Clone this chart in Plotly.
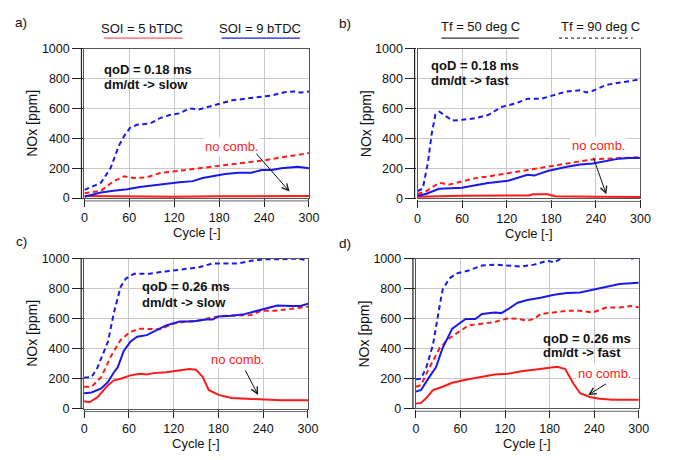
import plotly.graph_objects as go

RED = "rgb(255,25,25)"
BLUE = "rgb(25,25,235)"

# ---------------- Panel a ----------------
a_bd_x = [0, 22, 35, 46, 53, 61, 70, 88, 101, 114, 127, 140, 153, 166, 180, 197, 215, 232, 250, 267, 280, 289, 300]
a_bd_y = [54, 102, 200, 350, 415, 470, 490, 500, 535, 556, 567, 600, 593, 610, 632, 654, 665, 675, 686, 708, 714, 706, 714]
a_rd_x = [0, 22, 39, 53, 66, 83, 101, 118, 136, 153, 171, 188, 206, 223, 241, 258, 276, 300]
a_rd_y = [32, 48, 112, 145, 134, 138, 167, 177, 188, 199, 210, 221, 232, 242, 253, 268, 281, 301]
a_bs_x = [0, 13, 22, 39, 57, 74, 92, 110, 127, 145, 158, 171, 188, 206, 223, 237, 250, 263, 276, 285, 300]
a_bs_y = [9, 26, 37, 48, 58, 74, 87, 95, 106, 113, 134, 145, 160, 169, 169, 188, 188, 199, 203, 210, 199]
a_rs_x = [0, 30, 60, 120, 180, 240, 300]
a_rs_y = [14, 12, 10, 9, 12, 13, 13]

# ---------------- Panel b ----------------
b_bd_x = [0, 7, 14, 19, 24, 29.5, 36, 47, 60, 78, 95, 113, 131, 148, 166, 183, 201, 219, 227, 236, 254, 271, 300]
b_bd_y = [50, 65, 240, 430, 560, 579, 557, 520, 525, 536, 557, 611, 633, 665, 665, 687, 715, 723, 708, 719, 758, 773, 795]
b_rd_x = [0, 12, 29, 43, 60, 78, 95, 113, 131, 148, 166, 183, 201, 219, 236, 254, 271, 300]
b_rd_y = [28, 50, 104, 93, 114, 136, 147, 162, 179, 190, 205, 218, 233, 248, 261, 266, 270, 276]
b_bs_x = [0, 12, 29, 60, 78, 95, 122, 148, 157, 175, 201, 219, 236, 254, 271, 285, 300]
b_bs_y = [17, 32, 65, 71, 89, 104, 119, 158, 153, 184, 212, 227, 233, 248, 266, 270, 270]
b_rs_x = [0, 60, 150, 155, 175, 185, 240, 300]
b_rs_y = [12, 18, 20, 28, 28, 15, 12, 10]

# ---------------- Panel c ----------------
c_bd_x = [0, 10, 18, 32, 40, 49, 56, 67, 75, 88, 102, 119, 137, 154, 172, 189, 207, 224, 242, 264, 286, 300]
c_bd_y = [206, 211, 275, 447, 641, 813, 867, 899, 899, 899, 910, 920, 931, 942, 968, 968, 968, 985, 996, 996, 1000, 989]
c_rd_x = [0, 10, 23, 36, 49, 62, 75, 88, 102, 119, 137, 154, 172, 189, 207, 224, 237, 255, 272, 300]
c_rd_y = [146, 146, 211, 350, 458, 512, 533, 529, 529, 566, 581, 587, 609, 619, 624, 624, 652, 652, 662, 680]
c_bs_x = [0, 10, 23, 32, 40, 45, 53, 62, 71, 84, 97, 110, 128, 145, 163, 172, 180, 198, 215, 233, 242, 259, 277, 290, 300]
c_bs_y = [103, 108, 135, 178, 243, 275, 383, 447, 480, 490, 523, 555, 581, 581, 594, 594, 615, 619, 630, 652, 667, 688, 684, 684, 699]
c_rs_x = [0, 7, 18, 32, 40, 49, 62, 75, 84, 93, 110, 128, 141, 150, 159, 167, 180, 198, 215, 229, 242, 264, 300]
c_rs_y = [49, 43, 77, 157, 189, 200, 222, 232, 228, 237, 243, 254, 265, 260, 211, 125, 92, 71, 67, 60, 60, 56, 56]

# ---------------- Panel d ----------------
d_bd_x = [0, 7, 14, 23, 32, 36, 45, 54, 71, 89, 106, 124, 142, 159, 177, 186, 194, 203, 230, 260, 289, 300]
d_bd_y = [194, 199, 274, 425, 685, 793, 868, 901, 922, 955, 961, 955, 948, 961, 987, 976, 998, 1010, 1030, 1030, 1000, 1010]
d_rd_x = [0, 7, 14, 23, 32, 45, 58, 71, 89, 106, 124, 137, 150, 159, 168, 186, 203, 221, 238, 256, 274, 291, 300]
d_rd_y = [145, 156, 231, 317, 404, 469, 512, 555, 566, 577, 603, 598, 587, 598, 631, 641, 652, 652, 641, 674, 674, 685, 674]
d_bs_x = [0, 7, 18, 27, 36, 49, 58, 67, 80, 89, 106, 115, 124, 137, 150, 168, 186, 203, 221, 238, 256, 274, 300]
d_bs_y = [112, 123, 209, 274, 404, 533, 566, 598, 598, 631, 641, 637, 663, 706, 724, 739, 760, 771, 775, 793, 814, 832, 840]
d_rs_x = [0, 7, 14, 23, 36, 49, 67, 84, 106, 124, 142, 159, 177, 190, 201, 212, 221, 234, 247, 265, 300]
d_rs_y = [32, 37, 69, 123, 145, 171, 192, 209, 227, 231, 248, 259, 270, 278, 263, 166, 101, 76, 65, 58, 58]

x_ticks = [0, 60, 120, 180, 240, 300]
y_ticks = [0, 200, 400, 600, 800, 1000]

W, H = 673, 460
# plot areas in pixels: (left, right, top, bottom)
areas = {
    1: (83, 312, 43, 197),
    2: (422.7, 650, 43, 197.5),
    3: (82.7, 311, 259.5, 414.3),
    4: (421, 648.3, 259.7, 414),
}

fig = go.Figure()

panels = {
    1: [(a_rd_x, a_rd_y, RED, "dash"), (a_bd_x, a_bd_y, BLUE, "dash"),
        (a_rs_x, a_rs_y, RED, "solid"), (a_bs_x, a_bs_y, BLUE, "solid")],
    2: [(b_rd_x, b_rd_y, RED, "dash"), (b_bd_x, b_bd_y, BLUE, "dash"),
        (b_rs_x, b_rs_y, RED, "solid"), (b_bs_x, b_bs_y, BLUE, "solid")],
    3: [(c_rd_x, c_rd_y, RED, "dash"), (c_bd_x, c_bd_y, BLUE, "dash"),
        (c_rs_x, c_rs_y, RED, "solid"), (c_bs_x, c_bs_y, BLUE, "solid")],
    4: [(d_rd_x, d_rd_y, RED, "dash"), (d_bd_x, d_bd_y, BLUE, "dash"),
        (d_rs_x, d_rs_y, RED, "solid"), (d_bs_x, d_bs_y, BLUE, "solid")],
}

for i, series in panels.items():
    xa = "x" if i == 1 else f"x{i}"
    ya = "y" if i == 1 else f"y{i}"
    for xs, ys, col, dash in series:
        fig.add_trace(go.Scatter(
            x=xs, y=ys, mode="lines", xaxis=xa, yaxis=ya, showlegend=False,
            line=dict(color=col, width=2, dash=("5px,3.5px" if dash == "dash" else "solid")),
        ))

axis_font = dict(family="Liberation Sans, Arial, sans-serif", size=12.5, color="#111")
layout = dict(width=W, height=H, margin=dict(l=0, r=0, t=0, b=0),
              plot_bgcolor="white", paper_bgcolor="white", showlegend=False,
              font=dict(family="Liberation Sans, Arial, sans-serif", size=13, color="#111"))

for i, (l, r, t, b) in areas.items():
    xk = "xaxis" if i == 1 else f"xaxis{i}"
    yk = "yaxis" if i == 1 else f"yaxis{i}"
    ya = "y" if i == 1 else f"y{i}"
    xa = "x" if i == 1 else f"x{i}"
    layout[xk] = dict(domain=[l / W, r / W], range=[0, 300], tickvals=x_ticks,
                      anchor=ya, showgrid=True, gridcolor="#c8c8c8", gridwidth=1,
                      showline=True, linecolor="#555", linewidth=1.3, mirror=True,
                      ticks="outside", ticklen=8, tickcolor="#222", tickwidth=1,
                      tickfont=axis_font, zeroline=False, fixedrange=True)
    layout[yk] = dict(domain=[1 - b / H, 1 - t / H], range=[0, 1000], tickvals=y_ticks,
                      anchor=xa, showgrid=True, gridcolor="#c8c8c8", gridwidth=1,
                      showline=True, linecolor="#555", linewidth=1.3, mirror=True,
                      ticks="outside", ticklen=11, tickcolor="#222", tickwidth=1,
                      tickfont=axis_font, zeroline=False, fixedrange=True)

fig.update_layout(**layout)

ann = []
shapes = []

# offset axis lines (detached from the frame, as in the original)
for i, (l, r, t, b) in areas.items():
    shapes.append(dict(type="line", xref="paper", yref="paper",
                       x0=(l - 3) / W, x1=(l - 3) / W, y0=1 - t / H, y1=1 - b / H,
                       line=dict(color="#222", width=1.2)))
    shapes.append(dict(type="line", xref="paper", yref="paper",
                       x0=l / W, x1=r / W, y0=1 - (b + 3) / H, y1=1 - (b + 3) / H,
                       line=dict(color="#666", width=1)))


def px_ann(x, y, text, **kw):
    d = dict(x=x / W, y=1 - y / H, xref="paper", yref="paper", text=text,
             xanchor="center", yanchor="middle",
             showarrow=False, font=dict(size=13, color="#111"))
    d.update(kw)
    ann.append(d)


# panel labels
lab_font = dict(size=13.5, color="#111")
px_ann(18.5, 15.5, "a)", font=lab_font)
px_ann(349, 17, "b)", font=lab_font)
px_ann(19, 242, "c)", font=lab_font)
px_ann(349, 243.5, "d)", font=lab_font)

# axis titles
for i, (l, r, t, b) in areas.items():
    px_ann((l + r) / 2, b + 36, "Cycle [-]")
    px_ann(l - 53, (t + b) / 2, "NOx [ppm]", textangle=-90, font=dict(size=14, color="#111"))

# legends
px_ann(142, 22, "SOI = 5 bTDC")
px_ann(262, 22, "SOI = 9 bTDC")
px_ann(487, 20, "Tf = 50 deg C")
px_ann(609, 20, "Tf = 90 deg C")
for x0, x1, col, dash in [(103, 183, "rgb(255,90,90)", "solid"), (223, 303, BLUE, "solid"),
                          (447, 526, "#333", "solid"), (567, 642, "#333", "3px,3px")]:
    shapes.append(dict(type="line", xref="paper", yref="paper",
                       x0=x0 / W, x1=x1 / W, y0=1 - 32 / H, y1=1 - 32 / H,
                       line=dict(color=col, width=1.3, dash=dash)))

bold = dict(size=13, color="#111", family="Liberation Sans, Arial, sans-serif")


def data_ann(i, x, y, text, **kw):
    xa = "x" if i == 1 else f"x{i}"
    ya = "y" if i == 1 else f"y{i}"
    d = dict(x=x, y=y, xref=xa, yref=ya, text=text, showarrow=False, yanchor="middle")
    d.update(kw)
    ann.append(d)


# condition texts
data_ann(1, 24, 859, "<b>qoD = 0.18 ms</b>", xanchor="left", font=bold)
data_ann(1, 24, 762, "<b>dm/dt -> slow</b>", xanchor="left", font=bold)
data_ann(2, 16, 885, "<b>qoD = 0.18 ms</b>", xanchor="left", font=bold)
data_ann(2, 16, 788, "<b>dm/dt -> fast</b>", xanchor="left", font=bold)
data_ann(3, 75, 813, "<b>qoD = 0.26 ms</b>", xanchor="left", font=bold)
data_ann(3, 75, 705, "<b>dm/dt -> slow</b>", xanchor="left", font=bold)
data_ann(4, 168, 469, "<b>qoD = 0.26 ms</b>", xanchor="left", font=bold)
data_ann(4, 168, 371, "<b>dm/dt -> fast</b>", xanchor="left", font=bold)

# "no comb." labels and arrows
nc = [(1, 197, 346, 228, 307, 274, 43),
      (2, 243, 352, 236, 283, 254, 28),
      (3, 206, 329, 215, 265, 233, 92),
      (4, 254, 231, 258, 170, 232, 90)]
for i, tx, ty, axx, ayy, hx, hy in nc:
    xa = "x" if i == 1 else f"x{i}"
    ya = "y" if i == 1 else f"y{i}"
    data_ann(i, tx, ty, "no comb.", xanchor="center", font=dict(size=13, color=RED),
             bgcolor="white")
    ann.append(dict(x=hx, y=hy, xref=xa, yref=ya, ax=axx, ay=ayy, axref=xa, ayref=ya,
                    text="", showarrow=True, arrowhead=5, arrowsize=1.3, arrowwidth=1,
                    arrowcolor="#111"))

fig.update_layout(annotations=ann, shapes=shapes)
fig.write_html("out.html")
